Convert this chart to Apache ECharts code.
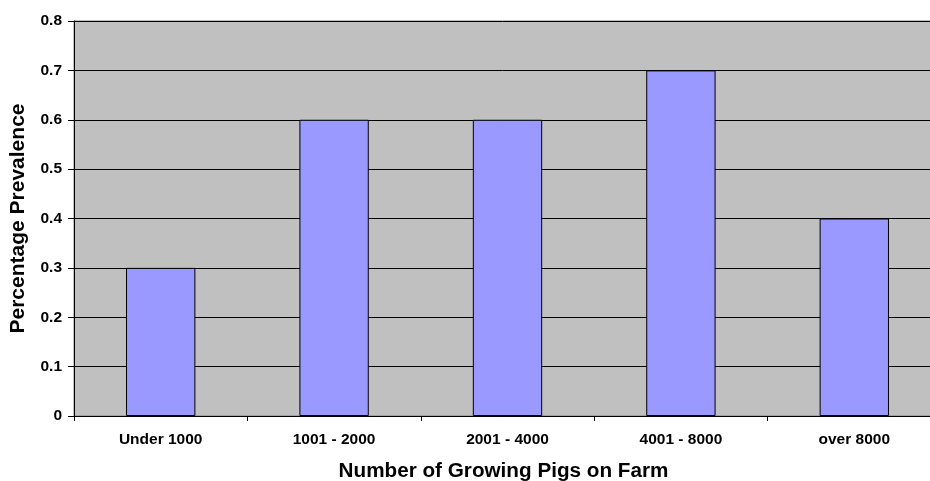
<!DOCTYPE html>
<html>
<head>
<meta charset="utf-8">
<script src="https://cdn.jsdelivr.net/npm/echarts@6/dist/echarts.min.js"></script>
<style>
  html, body { margin: 0; padding: 0; background: #fff; overflow: hidden; }
  #chart { width: 930px; height: 481px; }
</style>
</head>
<body>
<div id="chart"></div>
<script>
// Farm size bands and prevalence per band
const categories = ['Under 1000', '1001 - 2000', '2001 - 4000', '4001 - 8000', 'over 8000'];
const prevalence = [0.3, 0.6, 0.6, 0.7, 0.4];

const FONT = '"Liberation Sans", Arial, sans-serif';

const chart = echarts.init(document.getElementById('chart'), null, { renderer: 'canvas' });
chart.setOption({
  animation: false,
  backgroundColor: '#ffffff',
  // the plot area runs slightly past the right edge of the canvas
  grid: {
    left: 74, right: -11, top: 21, bottom: 65,
    outerBoundsMode: 'none',
    containLabel: false,
    show: true,
    backgroundColor: '#c0c0c0',
    borderColor: '#808080',
    borderWidth: 1
  },
  xAxis: {
    type: 'category',
    data: categories,
    name: 'Number of Growing Pigs on Farm',
    nameLocation: 'middle',
    nameGap: 45,
    nameTextStyle: { fontFamily: FONT, fontWeight: 'bold', fontSize: 20.7, color: '#000', padding: [0, 8, 0, 0] },
    axisLine: { lineStyle: { color: '#000', width: 1 } },
    axisTick: { show: true, alignWithLabel: false, length: 5, lineStyle: { color: '#000' } },
    axisLabel: { fontFamily: FONT, fontWeight: 'bold', fontSize: 15.5, color: '#000', margin: 16 },
    splitLine: { show: false }
  },
  yAxis: {
    type: 'value',
    min: 0, max: 0.8, interval: 0.1,
    name: 'Percentage Prevalence',
    nameLocation: 'middle',
    nameGap: 45,
    nameTextStyle: { fontFamily: FONT, fontWeight: 'bold', fontSize: 21, color: '#000' },
    axisLine: { show: true, lineStyle: { color: '#000', width: 1 } },
    axisTick: { show: true, length: 6, lineStyle: { color: '#000' } },
    axisLabel: {
      fontFamily: FONT, fontWeight: 'bold', fontSize: 15.5, color: '#000', margin: 12,
      formatter: v => (Math.round(v * 10) / 10).toString()
    },
    splitLine: { show: true, lineStyle: { color: '#000', width: 1 } }
  },
  series: [{
    type: 'bar',
    data: prevalence,
    barWidth: '40%',
    itemStyle: { color: '#9999ff', borderColor: '#000', borderWidth: 1 }
  }]
});
</script>
</body>
</html>
